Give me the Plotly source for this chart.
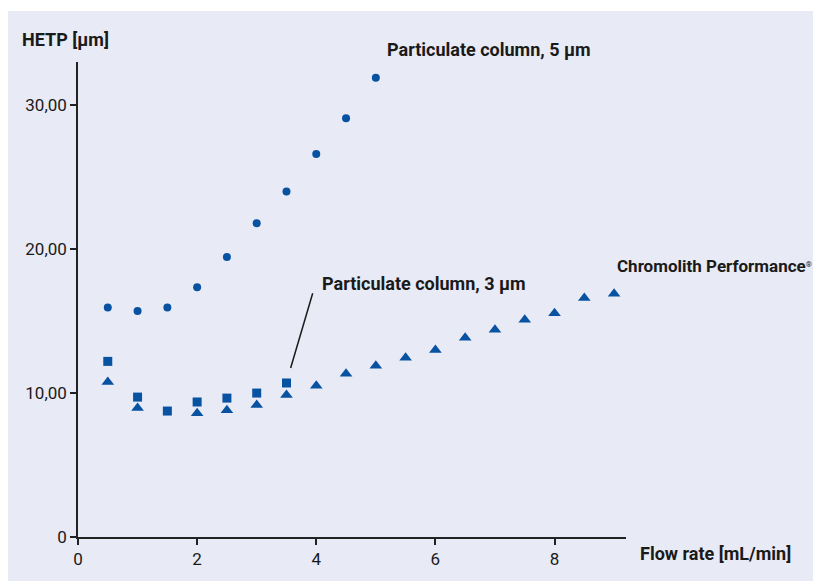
import plotly.graph_objects as go

# Data
flow_5um = [0.5, 1.0, 1.5, 2.0, 2.5, 3.0, 3.5, 4.0, 4.5, 5.0]
hetp_5um = [15.95, 15.7, 15.95, 17.35, 19.45, 21.8, 24.0, 26.6, 29.1, 31.9]

flow_3um = [0.5, 1.0, 1.5, 2.0, 2.5, 3.0, 3.5]
hetp_3um = [12.2, 9.72, 8.75, 9.38, 9.65, 10.0, 10.7]

flow_chromo = [0.5, 1.0, 2.0, 2.5, 3.0, 3.5, 4.0, 4.5, 5.0, 5.5, 6.0, 6.5, 7.0, 7.5, 8.0, 8.5, 9.0]
hetp_chromo = [10.76, 8.96, 8.6, 8.8, 9.17, 9.86, 10.5, 11.35, 11.9, 12.45, 13.0, 13.85, 14.4, 15.1, 15.55, 16.6, 16.9]

y_tickvals = [0, 10, 20, 30]
y_ticktext = ["0", "10,00", "20,00", "30,00"]
x_tickvals = [0, 2, 4, 6, 8]
x_ticktext = ["0", "2", "4", "6", "8"]

BLUE = "#0852a2"
TXT = "#1a1a1a"
FONT = "Roboto, sans-serif"

W, H = 813, 573          # page has an 8px body margin
L, R, T, B = 70, 195, 54, 44
pw, ph = W - L - R, H - T - B
OFF = 8


def px(xp):
    return (xp - OFF - L) / pw


def py(yp):
    return (H - (yp - OFF) - B) / ph


fig = go.Figure()
fig.add_trace(go.Scatter(x=flow_chromo, y=hetp_chromo, mode="markers",
                         marker=dict(symbol="triangle-up", size=11, color=BLUE),
                         name="Chromolith Performance", cliponaxis=False))
fig.add_trace(go.Scatter(x=flow_3um, y=hetp_3um, mode="markers",
                         marker=dict(symbol="square", size=9, color=BLUE),
                         name="Particulate column, 3 µm", cliponaxis=False))
fig.add_trace(go.Scatter(x=flow_5um, y=hetp_5um, mode="markers",
                         marker=dict(symbol="circle", size=8, color=BLUE),
                         name="Particulate column, 5 µm", cliponaxis=False))

fig.add_shape(type="rect", xref="paper", yref="paper",
              x0=px(8), x1=px(820), y0=py(585), y1=py(11),
              fillcolor="#e8eaf5", line_width=0, layer="below")

fig.add_shape(type="line", xref="x", yref="y", x0=3.94, y0=16.94, x1=3.57, y1=11.74,
              line=dict(color=TXT, width=1.5))

ann = [
    dict(x=px(20), y=py(40), text="<b>HETP [µm]</b>", size=18),
    dict(x=px(385), y=py(50), text="<b>Particulate column, 5 µm</b>", size=18),
    dict(x=px(320), y=py(283), text="<b>Particulate column, 3 µm</b>", size=18),
    dict(x=px(615), y=py(266),
         text="<b>Chromolith Performance</b><span style='font-size:11px'><sup>®</sup></span>",
         size=17),
    dict(x=px(638), y=py(553), text="<b>Flow rate [mL/min]</b>", size=18),
]
for a in ann:
    s = a.pop("size")
    fig.add_annotation(xref="paper", yref="paper", xanchor="left", yanchor="middle",
                       showarrow=False, font=dict(family=FONT, size=s, color=TXT), **a)

fig.update_layout(
    width=W, height=H,
    margin=dict(l=L, r=R, t=T, b=B),
    paper_bgcolor="white", plot_bgcolor="rgba(0,0,0,0)",
    showlegend=False,
    font=dict(family=FONT, size=17, color=TXT),
)
fig.update_xaxes(range=[0, 9.2], showgrid=False, zeroline=False, showline=True,
                 linecolor="#222", linewidth=1.5, ticks="outside", ticklen=6,
                 tickcolor="#222", tickwidth=1.5,
                 tickvals=x_tickvals, ticktext=x_ticktext)
fig.update_yaxes(range=[0, 33], showgrid=False, zeroline=False, showline=True,
                 linecolor="#222", linewidth=1.5, ticks="outside", ticklen=6,
                 tickcolor="#222", tickwidth=1.5,
                 tickvals=y_tickvals, ticktext=y_ticktext)

fig.write_html("out.html")
